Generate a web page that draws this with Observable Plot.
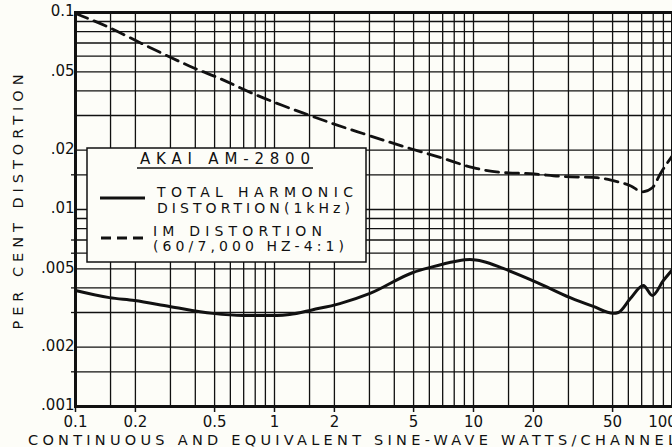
<!DOCTYPE html>
<html>
<head>
<meta charset="utf-8">
<script src="https://cdn.jsdelivr.net/npm/d3@7"></script>
<script src="https://cdn.jsdelivr.net/npm/@observablehq/plot@0.6"></script>
<style>
  html, body { margin: 0; padding: 0; background: #fdfdf8; }
  #chart { position: relative; width: 672px; height: 447px; overflow: hidden; }
</style>
</head>
<body>
<div id="chart"></div>
<script>
// ---- data ----
const xGrid = [0.1, 0.15, 0.2, 0.3, 0.4, 0.5, 0.6, 0.7, 0.8, 0.9,
               1, 1.5, 2, 3, 4, 5, 6, 7, 8, 9,
               10, 15, 20, 30, 40, 50, 60, 70, 80, 90, 100];
const yGrid = [0.001, 0.0015, 0.002, 0.003, 0.004, 0.005, 0.006, 0.007, 0.008, 0.009,
               0.01, 0.015, 0.02, 0.03, 0.04, 0.05, 0.06, 0.07, 0.08, 0.09, 0.1];
const xTicks = [0.1, 0.2, 0.5, 1, 2, 5, 10, 20, 50];
const xTickLabels = ["0.1", "0.2", "0.5", "1", "2", "5", "10", "20", "50"];
const xLastTick = [100];
const xLastTickLabel = ["100"];
const yTicks = [0.1, 0.05, 0.02, 0.01, 0.005, 0.002, 0.001];
const yTickLabels = ["0.1", ".05", ".02", ".01", ".005", ".002", ".001"];
const yMinorTicks = [0.015, 0.007, 0.006, 0.004, 0.003, 0.0015];

// Total harmonic distortion (1 kHz)
const thdWatts = [0.1, 0.148, 0.198, 0.297, 0.489, 0.692, 1.03, 1.19, 1.56, 2.13, 3.02, 4.97, 6.05, 8.08, 9.6, 11.2, 14.1, 20.9, 30.6, 40, 50.4, 53.4, 61.4, 71.4, 79.2, 90, 100];
const thdPct   = [0.00388, 0.00357, 0.00345, 0.00322, 0.00297, 0.0029, 0.0029, 0.00293, 0.0031, 0.00333, 0.00375, 0.00479, 0.00508, 0.00545, 0.00557, 0.00545, 0.00502, 0.00426, 0.00357, 0.00322, 0.00297, 0.0030, 0.00353, 0.00411, 0.00366, 0.00436, 0.00496];

// IM distortion (60/7,000 Hz - 4:1)
const imWatts = [0.1, 0.148, 0.21, 0.287, 0.388, 0.53, 0.778, 1.10, 1.51, 1.96, 2.78, 4.8, 6.79, 9.95, 14.1, 19.3, 28.2, 41.9, 50.4, 61.4, 70.6, 79.2, 86.9, 100];
const imPct   = [0.0988, 0.0839, 0.0704, 0.0605, 0.0526, 0.0463, 0.0388, 0.0337, 0.030, 0.0273, 0.0243, 0.0204, 0.0184, 0.0163, 0.0154, 0.0152, 0.0147, 0.0145, 0.0140, 0.0132, 0.0123, 0.0129, 0.0152, 0.0188];

const legendTitle = "AKAI AM-2800";
const legendThd = ["TOTAL HARMONIC", "DISTORTION(1kHz)"];
const legendIm = ["IM DISTORTION", "(60/7,000 HZ-4:1)"];
const xLabel = "CONTINUOUS AND EQUIVALENT SINE-WAVE WATTS/CHANNEL";
const yLabel = "PER CENT DISTORTION";

const thd = thdWatts.map((w, i) => ({w, p: thdPct[i]}));
const im = imWatts.map((w, i) => ({w, p: imPct[i]}));

const ink = "#111";
const bg = "#fdfdf8";
const font = "DejaVu Sans, sans-serif";

const svg = Plot.plot({
  width: 672,
  height: 447,
  marginLeft: 75,
  marginRight: 0,
  marginTop: 12,
  marginBottom: 41,
  style: {background: bg, fontFamily: font, fontSize: "15px", color: ink},
  x: {type: "log", domain: [0.1, 100]},
  y: {type: "log", domain: [0.001, 0.1]},
  marks: [
    Plot.ruleX(xGrid, {stroke: ink, strokeWidth: 1.3}),
    Plot.ruleY(yGrid, {stroke: ink, strokeWidth: 1.3}),
    Plot.frame({stroke: ink, strokeWidth: 3}),
    Plot.line(im, {x: "w", y: "p", stroke: ink, strokeWidth: 2.8, strokeDasharray: "13,7", curve: "monotone-x"}),
    Plot.line(thd, {x: "w", y: "p", stroke: ink, strokeWidth: 3, curve: "monotone-x"}),
    Plot.axisX(xTicks, {tickFormat: () => "", tickSize: 6, strokeWidth: 1.5, label: null}),
    Plot.axisY(yMinorTicks, {tickFormat: () => "", tickSize: 4, strokeWidth: 1.3, label: null}),
    Plot.text(xTicks, {x: d => d, text: (d, i) => xTickLabels[i], frameAnchor: "bottom", lineAnchor: "top", dy: 10, fontSize: 15, fill: ink, letterSpacing: "2px"}),
    Plot.text(xLastTick, {x: d => d, text: (d, i) => xLastTickLabel[i], frameAnchor: "bottom", lineAnchor: "top", dy: 10, dx: -10, fontSize: 15, fill: ink, letterSpacing: "2px"}),
    Plot.text(yTicks, {y: d => d, text: (d, i) => yTickLabels[i], frameAnchor: "left", textAnchor: "end", dx: -1, dy: -1, fontSize: 15, fill: ink, letterSpacing: "3px"})
  ]
});

document.getElementById("chart").appendChild(svg);

const s = d3.select(svg);
// axis titles
s.append("text")
  .attr("x", 28).attr("y", 445)
  .attr("text-anchor", "start")
  .attr("textLength", 648).attr("lengthAdjust", "spacing")
  .attr("font-size", 14.5).attr("fill", ink)
  .text(xLabel);
s.append("text")
  .attr("transform", "translate(23,202) rotate(-90)")
  .attr("text-anchor", "middle")
  .attr("textLength", 255).attr("lengthAdjust", "spacing")
  .attr("font-size", 14.5).attr("fill", ink)
  .text(yLabel);

// legend box
const lg = s.append("g").attr("fill", ink).attr("text-anchor", "start");
lg.append("rect").attr("x", 87).attr("y", 148).attr("width", 279).attr("height", 114)
  .attr("fill", bg).attr("stroke", ink).attr("stroke-width", 1.5);
lg.append("text").attr("x", 140).attr("y", 164).attr("font-size", 15)
  .attr("textLength", 170).attr("lengthAdjust", "spacing").text(legendTitle);
lg.append("line").attr("x1", 137).attr("x2", 313).attr("y1", 168).attr("y2", 168)
  .attr("stroke", ink).attr("stroke-width", 1.5);
lg.append("line").attr("x1", 100).attr("x2", 145).attr("y1", 198).attr("y2", 198)
  .attr("stroke", ink).attr("stroke-width", 3);
lg.append("line").attr("x1", 101).attr("x2", 147).attr("y1", 238).attr("y2", 238)
  .attr("stroke", ink).attr("stroke-width", 3).attr("stroke-dasharray", "10,6");
const items = [
  [legendThd[0], 157, 197, 196],
  [legendThd[1], 157, 213, 193],
  [legendIm[0], 153, 236, 169],
  [legendIm[1], 153, 251, 191]
];
for (const [t, x, y, len] of items) {
  lg.append("text").attr("x", x).attr("y", y).attr("font-size", 14)
    .attr("textLength", len).attr("lengthAdjust", "spacing").text(t);
}
</script>
</body>
</html>
